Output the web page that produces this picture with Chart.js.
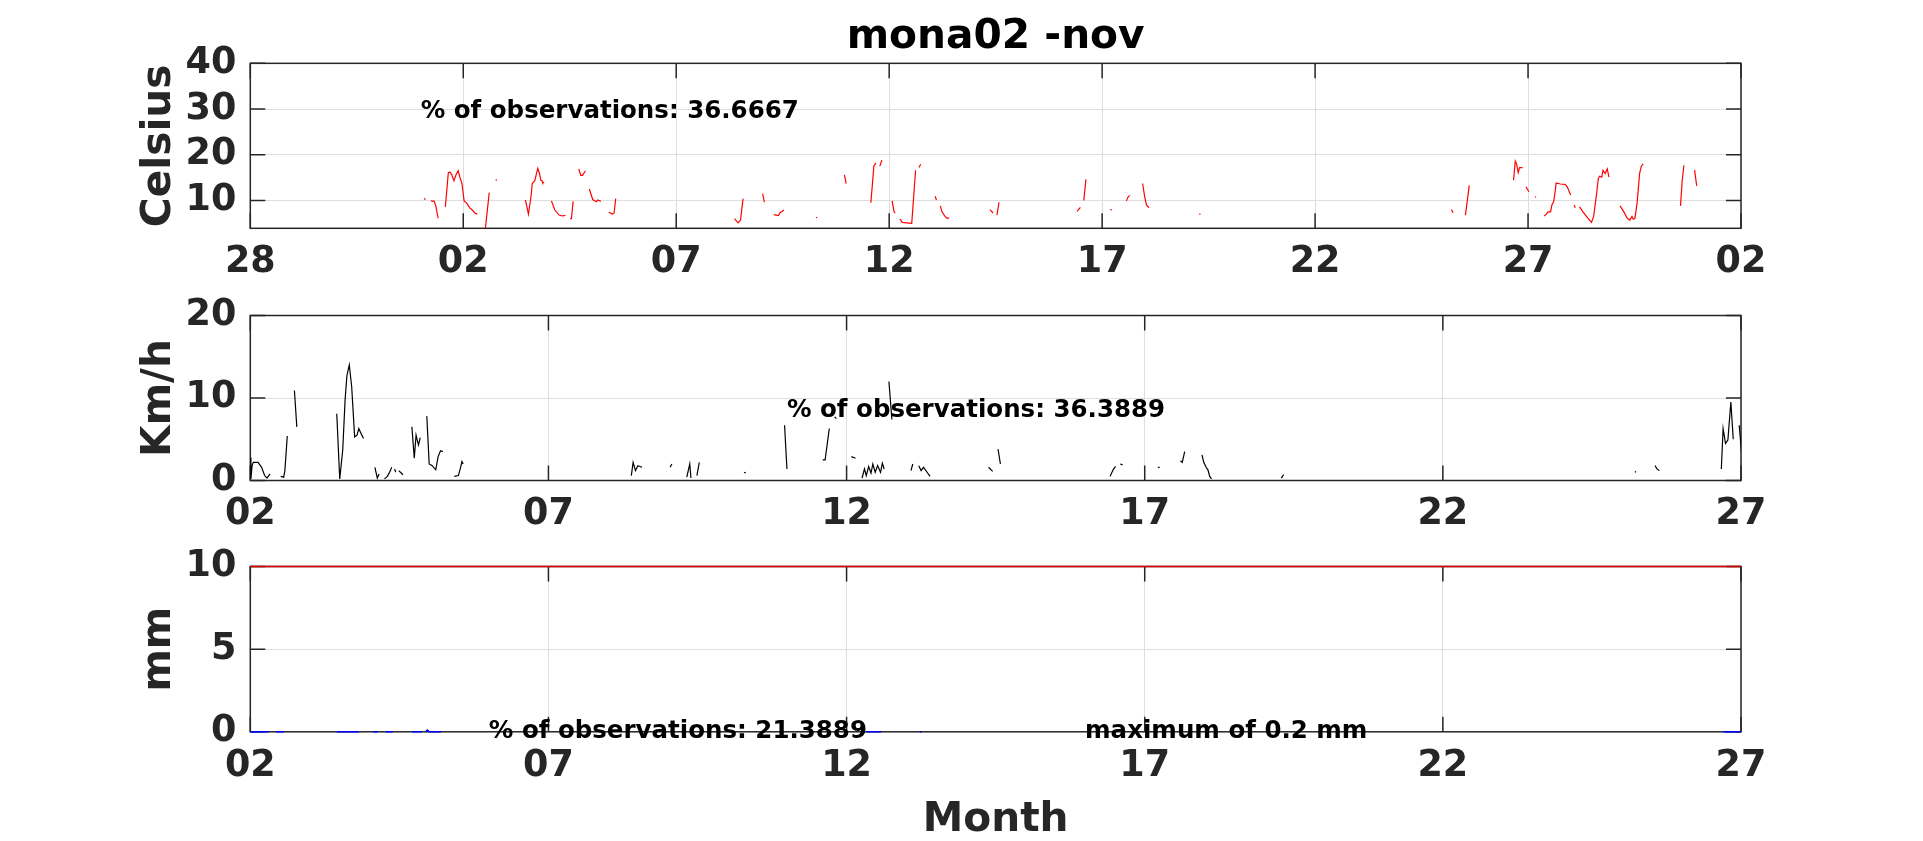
<!DOCTYPE html>
<html lang="en">
<head>
  <meta charset="UTF-8">
  <title>mona02 -nov</title>
  <script src="https://cdn.jsdelivr.net/npm/chart.js"></script>
  <style>
    html, body {
      margin: 0;
      padding: 0;
      background: #ffffff;
      overflow: hidden;
    }
    #wrap {
      position: relative;
      width: 1923px;
      height: 841px;
    }
    canvas {
      position: absolute;
      left: 0;
      top: 0;
    }
  </style>
</head>
<body>
  <div id="wrap">
    <canvas id="tempChart" width="1923" height="841"></canvas>
    <canvas id="windChart" width="1923" height="841"></canvas>
    <canvas id="rainChart" width="1923" height="841"></canvas>
  </div>

  <script>
    // Days counted from 31 Oct: 1 = 01 Nov, -3 = 28 Oct, 32 = 02 Dec
    const tempTicks = [-3, 2, 7, 12, 17, 22, 27, 32];
    const tempTickLabels = ['28', '02', '07', '12', '17', '22', '27', '02'];
    const monthTicks = [2, 7, 12, 17, 22, 27];
    const monthTickLabels = ['02', '07', '12', '17', '22', '27'];

    const tempYTicks = [10, 20, 30, 40];
    const windYTicks = [0, 10, 20];
    const rainYTicks = [0, 5, 10];

    // null = gap between records
    const tempDay = [
      1.08, 1.10, null,
      1.24, 1.32, 1.36, 1.41, null,
      1.58, 1.65, 1.69, 1.73, 1.78, 1.83, 1.88, 1.92, 1.97, 2.02, 2.08, 2.16, 2.20, 2.28, 2.33, null,
      2.52, 2.61, null,
      2.76, 2.79, null,
      3.46, 3.53, 3.59, 3.62, 3.68, 3.72, 3.75, 3.79, 3.82, 3.85, 3.86, 3.90, null,
      4.07, 4.15, 4.25, 4.32, 4.40, null,
      4.51, 4.54, 4.58, null,
      4.71, 4.76, 4.80, 4.87, null,
      4.96, 5.04, 5.12, 5.16, 5.23, null,
      5.42, 5.50, 5.54, 5.58, null,
      8.37, 8.45, 8.51, 8.57, null,
      9.03, 9.07, null,
      9.29, 9.40, 9.44, 9.53, null,
      10.28, 10.31, null,
      10.95, 10.99, null,
      11.57, 11.62, 11.64, 11.69, null,
      11.78, 11.83, null,
      12.07, 12.11, 12.14, null,
      12.25, 12.31, 12.41, 12.53, 12.62, null,
      12.70, 12.74, null,
      13.08, 13.11, null,
      13.20, 13.24, 13.31, 13.36, 13.41, null,
      14.37, 14.44, null,
      14.53, 14.58, null,
      16.41, 16.49, null,
      16.57, 16.62, null,
      17.19, 17.23, null,
      17.57, 17.61, 17.65, null,
      17.95, 18.00, 18.04, 18.10, null,
      19.28, 19.31, null,
      25.20, 25.24, null,
      25.53, 25.62, null,
      26.66, 26.70, 26.73, 26.77, 26.80, 26.87, null,
      26.95, 27.02, null,
      27.16, 27.19, null,
      27.38, 27.43, 27.47, 27.53, 27.56, 27.60, 27.63, 27.66, 27.71, 27.76, 27.87, 27.92, 28.00, null,
      28.08, 28.11, null,
      28.21, 28.29, 28.39, 28.49, 28.54, 28.61, 28.65, 28.68, 28.73, 28.76, 28.81, 28.86, 28.90, null,
      29.16, 29.25, 29.33, 29.39, 29.44, 29.47, 29.51, 29.56, 29.62, 29.66, 29.70, null,
      30.58, 30.62, 30.66, null,
      30.91, 30.96
    ];
    const tempC = [
      10.4, 10.3, null,
      9.9, 9.8, 8.6, 6.1, null,
      8.6, 16.1, 16.2, 15.6, 14.3, 15.6, 16.5, 15.1, 13.7, 9.9, 9.4, 8.3, 8.0, 7.2, 7.0, null,
      3.9, 11.7, null,
      14.6, 14.4, null,
      10.1, 7.0, 10.8, 13.7, 14.3, 15.9, 17.0, 15.9, 14.4, 14.3, 14.0, 13.8, null,
      9.9, 7.9, 6.8, 6.6, 6.7, null,
      6.0, 6.0, 9.8, null,
      16.9, 15.5, 15.5, 16.5, null,
      12.5, 10.2, 9.7, 10.1, 9.8, null,
      7.4, 7.0, 7.2, 10.4, null,
      6.0, 5.1, 5.7, 10.4, null,
      11.5, 9.6, null,
      6.9, 6.7, 7.3, 7.9, null,
      6.3, 6.2, null,
      15.6, 13.7, null,
      9.5, 15.1, 17.5, 18.2, null,
      17.5, 18.8, null,
      9.9, 7.7, 7.2, null,
      5.9, 5.2, 5.1, 5.0, 16.6, null,
      17.2, 17.9, null,
      10.9, 10.1, null,
      8.8, 7.5, 6.5, 6.1, 6.2, null,
      8.0, 7.2, null,
      6.8, 9.6, null,
      7.6, 8.5, null,
      10.0, 14.6, null,
      8.0, 7.9, null,
      9.9, 10.8, 11.1, null,
      13.7, 10.8, 9.0, 8.4, null,
      7.0, 7.0, null,
      8.0, 7.3, null,
      6.8, 13.3, null,
      14.4, 18.6, 18.0, 16.1, 17.2, 17.2, null,
      13.0, 11.9, null,
      10.8, 10.7, null,
      6.6, 7.0, 7.5, 7.5, 9.0, 9.7, 11.5, 13.8, 13.7, 13.6, 13.5, 13.0, 11.2, null,
      9.0, 8.4, null,
      8.6, 7.5, 6.3, 5.2, 6.5, 11.5, 14.8, 15.3, 15.1, 16.6, 15.9, 16.9, 15.1, null,
      8.8, 7.5, 6.1, 5.7, 6.5, 5.9, 6.1, 9.4, 15.9, 17.5, 18.0, null,
      8.8, 14.4, 17.7, null,
      16.7, 13.2
    ];

    const windDay = [
      2.00, 2.01, 2.03, 2.05, 2.13, 2.19, 2.24, 2.28, 2.33, null,
      2.51, 2.56, 2.58, 2.62, null,
      2.74, 2.78, null,
      3.45, 3.50, 3.55, 3.59, 3.62, 3.66, 3.70, 3.75, 3.79, 3.82, 3.87, 3.90, null,
      4.09, 4.13, 4.16, null,
      4.25, 4.30, 4.35, 4.37, null,
      4.42, 4.44, null,
      4.49, 4.56, null,
      4.71, 4.75, 4.78, 4.82, 4.85, null,
      4.96, 5.00, 5.05, 5.11, 5.15, 5.19, 5.23, null,
      5.42, 5.49, 5.52, 5.55, 5.57, null,
      8.39, 8.42, 8.46, 8.50, 8.57, null,
      9.04, 9.07, null,
      9.32, 9.37, 9.39, null,
      9.49, 9.53, null,
      10.28, 10.31, null,
      10.96, 11.00, null,
      11.60, 11.64, 11.71, null,
      11.80, 11.83, null,
      12.08, 12.15, null,
      12.26, 12.30, 12.33, 12.37, 12.41, 12.44, 12.48, 12.52, 12.57, 12.60, 12.63, null,
      12.71, 12.76, null,
      13.08, 13.11, null,
      13.21, 13.25, 13.29, 13.35, 13.40, null,
      14.38, 14.45, null,
      14.54, 14.58, null,
      16.42, 16.47, 16.51, null,
      16.59, 16.63, null,
      17.22, 17.25, null,
      17.60, 17.63, 17.67, null,
      17.96, 17.99, 18.03, 18.06, 18.09, 18.12, null,
      19.29, 19.33, null,
      25.22, 25.24, null,
      25.56, 25.59, 25.63, null,
      26.67, 26.70, 26.74, 26.78, 26.83, 26.87, null,
      26.97, 27.01
    ];
    const windKmh = [
      2.8, 0.2, 1.8, 2.2, 2.2, 1.6, 0.6, 0.3, 0.8, null,
      0.5, 0.4, 1.2, 5.4, null,
      10.9, 6.5, null,
      8.1, 0.2, 3.7, 9.8, 12.7, 14.0, 11.4, 5.3, 5.5, 6.3, 5.5, 5.1, null,
      1.6, 0.3, 0.8, null,
      0.2, 0.5, 1.2, 1.6, null,
      1.4, 1.0, null,
      1.2, 0.7, null,
      6.5, 2.7, 5.5, 4.3, 5.2, null,
      7.8, 2.0, 1.8, 1.3, 2.9, 3.6, 3.5, null,
      0.5, 0.6, 1.4, 2.3, 2.0, null,
      0.6, 2.2, 1.2, 1.8, 1.6, null,
      1.6, 2.0, null,
      0.4, 2.0, 0.3, null,
      0.6, 2.2, null,
      1.0, 0.9, null,
      6.7, 1.4, null,
      2.5, 2.5, 6.3, null,
      7.7, 7.5, null,
      2.9, 2.7, null,
      0.3, 1.4, 0.6, 1.7, 0.9, 2.0, 1.0, 1.8, 1.0, 2.1, 1.4, null,
      12.0, 7.4, null,
      1.2, 2.0, null,
      1.8, 1.2, 1.6, 1.0, 0.5, null,
      1.6, 1.1, null,
      3.8, 2.0, null,
      0.5, 1.3, 1.7, null,
      2.0, 1.9, null,
      1.6, 1.6, null,
      2.4, 2.2, 3.5, null,
      3.1, 2.2, 1.6, 1.3, 0.5, 0.2, null,
      0.3, 0.7, null,
      1.0, 1.1, null,
      1.8, 1.4, 1.2, null,
      1.4, 6.3, 4.5, 4.9, 9.5, 5.0, null,
      6.7, 3.3
    ];

    const rainDay = [
      2.00, 2.31, null,
      2.43, 2.57, null,
      3.45, 3.82, null,
      4.06, 4.14, null,
      4.27, 4.39, null,
      4.71, 4.88, null,
      4.94, 4.97, 5.00, 5.20, null,
      12.33, 12.58, null,
      13.23, 13.26, null,
      16.45, 16.48, null,
      18.02, 18.05, null,
      26.70, 27.00
    ];
    const rainMm = [
      0, 0, null,
      0, 0, null,
      0, 0, null,
      0, 0, null,
      0, 0, null,
      0, 0, null,
      0, 0.1, 0, 0, null,
      0, 0, null,
      0, 0, null,
      0, 0, null,
      0, 0, null,
      0, 0
    ];
    const rainLimitDay = [2, 27];
    const rainLimitMm = [10, 10];

    // Texto das anotações
    const tempNote = '% of observations: 36.6667';
    const windNote = '% of observations: 36.3889';
    const rainNote = '% of observations: 21.3889';
    const rainMaxNote = 'maximum of 0.2 mm';

    const FONT = 'DejaVu Sans';
    const INK = '#262626';
    const GRID = 'rgb(222,222,222)';
    const tickFont = { family: FONT, size: 36.5, weight: 'bold' };
    const labelFont = { family: FONT, size: 40.7, weight: 'bold' };

    function toPoints(days, vals) {
      return days.map((d, i) => d === null ? { x: days[i - 1], y: null } : { x: d, y: vals[i] });
    }

    // MATLAB-like box with inward ticks
    const boxPlugin = {
      id: 'box',
      beforeDatasetsDraw(chart) {
        const { ctx, chartArea: a, scales: { x, y } } = chart;
        ctx.save();
        ctx.strokeStyle = INK;
        ctx.lineWidth = 1.5;
        ctx.strokeRect(a.left, a.top, a.width, a.height);
        ctx.beginPath();
        x.ticks.forEach(t => {
          const px = x.getPixelForValue(t.value);
          ctx.moveTo(px, a.bottom); ctx.lineTo(px, a.bottom - 15);
          ctx.moveTo(px, a.top); ctx.lineTo(px, a.top + 15);
        });
        y.ticks.forEach(t => {
          const py = y.getPixelForValue(t.value);
          ctx.moveTo(a.left, py); ctx.lineTo(a.left + 15, py);
          ctx.moveTo(a.right, py); ctx.lineTo(a.right - 15, py);
        });
        ctx.stroke();
        ctx.restore();
      }
    };

    function notesPlugin(items) {
      return {
        id: 'notes',
        afterDatasetsDraw(chart) {
          const { ctx, scales: { x, y } } = chart;
          ctx.save();
          ctx.fillStyle = '#000000';
          ctx.font = 'bold 24.5px "' + FONT + '"';
          ctx.textAlign = 'left';
          ctx.textBaseline = 'middle';
          items.forEach(n => ctx.fillText(n.text, x.getPixelForValue(n.x), y.getPixelForValue(n.y)));
          ctx.restore();
        }
      };
    }

    function panelOptions(cfg) {
      return {
        responsive: false,
        animation: false,
        events: [],
        layout: { padding: { left: 135, right: 182, top: cfg.padTop, bottom: cfg.padBottom } },
        plugins: {
          legend: { display: false },
          tooltip: { enabled: false },
          title: cfg.title || { display: false }
        },
        scales: {
          x: {
            type: 'linear',
            min: cfg.xMin,
            max: cfg.xMax,
            afterBuildTicks: s => { s.ticks = cfg.xTicks.map(v => ({ value: v })); },
            afterFit: s => { s.height = cfg.xHeight; },
            ticks: {
              callback: (v, i) => cfg.xLabels[i],
              padding: 12.6,
              maxRotation: 0,
              autoSkip: false,
              color: INK,
              font: tickFont
            },
            grid: { color: GRID, lineWidth: 1, drawTicks: false },
            border: { display: false },
            title: cfg.xTitle || { display: false }
          },
          y: {
            min: cfg.yMin,
            max: cfg.yMax,
            afterBuildTicks: s => { s.ticks = cfg.yTicks.map(v => ({ value: v })); },
            afterFit: s => { s.width = 115.3; },
            ticks: { padding: 14, color: INK, font: tickFont },
            grid: { color: GRID, lineWidth: 1, drawTicks: false },
            border: { display: false },
            title: {
              display: true,
              text: cfg.yTitle,
              color: INK,
              font: labelFont,
              padding: { top: 0, bottom: 0 }
            }
          }
        }
      };
    }

    function lineSet(points, color, width, clip) {
      return {
        data: points,
        borderColor: color,
        borderWidth: width,
        pointRadius: 0,
        tension: 0,
        spanGaps: false,
        clip: clip
      };
    }

    new Chart(document.getElementById('tempChart'), {
      type: 'line',
      data: { datasets: [lineSet(toPoints(tempDay, tempC), '#ff0000', 1.2, 0)] },
      options: panelOptions({
        padTop: 0, padBottom: 552.7, xHeight: 60,
        xMin: -3, xMax: 32, xTicks: tempTicks, xLabels: tempTickLabels,
        yMin: 3.9, yMax: 40, yTicks: tempYTicks, yTitle: 'Celsius',
        title: {
          display: true,
          text: 'mona02 -nov',
          color: '#000000',
          fullSize: false,
          font: labelFont,
          padding: { top: 12.6, bottom: 1.9 }
        }
      }),
      plugins: [boxPlugin, notesPlugin([{ x: 1, y: 29.4, text: tempNote }])]
    });

    new Chart(document.getElementById('windChart'), {
      type: 'line',
      data: { datasets: [lineSet(toPoints(windDay, windKmh), '#000000', 1.2, 0)] },
      options: panelOptions({
        padTop: 315.5, padBottom: 300.5, xHeight: 60,
        xMin: 2, xMax: 27, xTicks: monthTicks, xLabels: monthTickLabels,
        yMin: 0, yMax: 20, yTicks: windYTicks, yTitle: 'Km/h'
      }),
      plugins: [boxPlugin, notesPlugin([{ x: 11, y: 8.5, text: windNote }])]
    });

    new Chart(document.getElementById('rainChart'), {
      type: 'line',
      data: {
        datasets: [
          lineSet(toPoints(rainDay, rainMm), '#0000ff', 1.6, 3),
          lineSet(toPoints(rainLimitDay, rainLimitMm), '#e00000', 1.6, 3)
        ]
      },
      options: panelOptions({
        padTop: 566.5, padBottom: 0, xHeight: 109.2,
        xMin: 2, xMax: 27, xTicks: monthTicks, xLabels: monthTickLabels,
        yMin: 0, yMax: 10, yTicks: rainYTicks, yTitle: 'mm',
        xTitle: {
          display: true,
          text: 'Month',
          color: INK,
          font: labelFont,
          padding: { top: 0, bottom: -3.4 }
        }
      }),
      plugins: [boxPlugin, notesPlugin([
        { x: 6, y: 0, text: rainNote },
        { x: 16, y: 0, text: rainMaxNote }
      ])]
    });
  </script>
</body>
</html>
